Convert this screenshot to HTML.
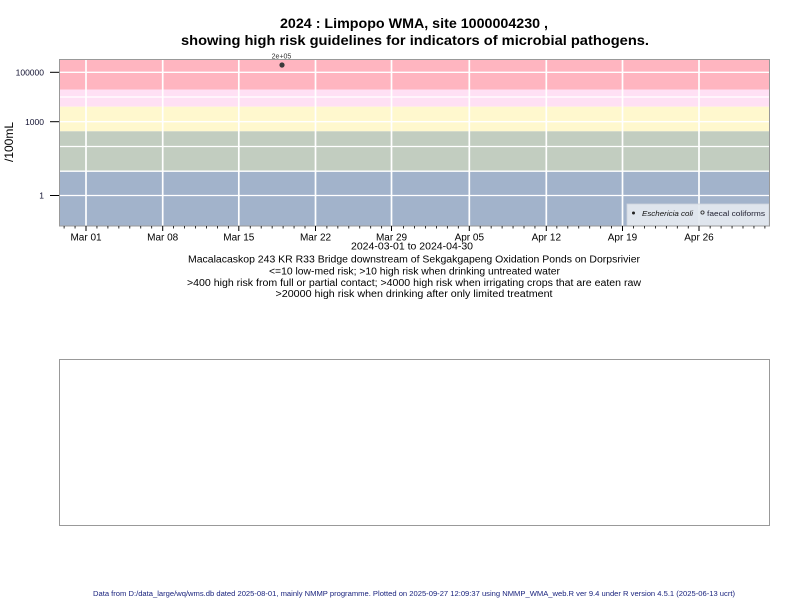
<!DOCTYPE html>
<html>
<head>
<meta charset="utf-8">
<style>
  html,body{margin:0;padding:0;background:#fff;}
  svg{display:block;}
  text{font-family:"Liberation Sans",Arial,sans-serif;}
</style>
</head>
<body>
<svg width="800" height="600" viewBox="0 0 800 600" xmlns="http://www.w3.org/2000/svg">
  <rect x="0" y="0" width="800" height="600" fill="#ffffff"/>

  <!-- Title -->
  <text x="414" y="28" font-size="14" font-weight="bold" text-anchor="middle" fill="#000" textLength="268" lengthAdjust="spacingAndGlyphs">2024 : Limpopo WMA, site 1000004230 ,</text>
  <text x="415" y="45" font-size="14" font-weight="bold" text-anchor="middle" fill="#000" textLength="468" lengthAdjust="spacingAndGlyphs">showing high risk guidelines for indicators of microbial pathogens.</text>

  <!-- Bands -->
  <rect x="59.5" y="59.5" width="710" height="30" fill="#FFB5C0"/>
  <rect x="59.5" y="89.5" width="710" height="17.2" fill="#FFE0F4"/>
  <rect x="59.5" y="106.7" width="710" height="24.6" fill="#FFF8CE"/>
  <rect x="59.5" y="131.3" width="710" height="39.6" fill="#C2CDC0"/>
  <rect x="59.5" y="170.9" width="710" height="55.6" fill="#A2B3CB"/>

  <!-- Horizontal gridlines -->
  <g stroke="#ffffff" stroke-width="1.3">
    <line x1="59.5" x2="769.5" y1="72.3" y2="72.3"/>
    <line x1="59.5" x2="769.5" y1="97" y2="97"/>
    <line x1="59.5" x2="769.5" y1="121.7" y2="121.7"/>
    <line x1="59.5" x2="769.5" y1="146.5" y2="146.5"/>
    <line x1="59.5" x2="769.5" y1="171.2" y2="171.2"/>
    <line x1="59.5" x2="769.5" y1="195.5" y2="195.5"/>
  </g>
  <!-- Vertical gridlines -->
  <g stroke="#ffffff" stroke-width="1.7">
    <line x1="86" x2="86" y1="59.5" y2="226.5"/>
    <line x1="162.7" x2="162.7" y1="59.5" y2="226.5"/>
    <line x1="238.8" x2="238.8" y1="59.5" y2="226.5"/>
    <line x1="315.5" x2="315.5" y1="59.5" y2="226.5"/>
    <line x1="391.5" x2="391.5" y1="59.5" y2="226.5"/>
    <line x1="469.3" x2="469.3" y1="59.5" y2="226.5"/>
    <line x1="546.3" x2="546.3" y1="59.5" y2="226.5"/>
    <line x1="622.5" x2="622.5" y1="59.5" y2="226.5"/>
    <line x1="699" x2="699" y1="59.5" y2="226.5"/>
  </g>

  <!-- Legend -->
  <rect x="627" y="204" width="142" height="22" fill="#E3E8EF" fill-opacity="0.93" stroke="#cfd4db" stroke-width="0.8"/>
  <circle cx="633.5" cy="213" r="1.5" fill="#222"/>
  <text x="642" y="216" font-size="7.5" font-style="italic" fill="#111" textLength="51" lengthAdjust="spacingAndGlyphs">Eschericia coli</text>
  <circle cx="702.5" cy="212.5" r="1.6" fill="none" stroke="#222" stroke-width="0.8"/>
  <text x="707" y="216" font-size="7.5" fill="#223" textLength="58" lengthAdjust="spacingAndGlyphs">faecal coliforms</text>

  <!-- Plot border -->
  <rect x="59.5" y="59.5" width="710" height="166.5" fill="none" stroke="#999" stroke-width="1"/>

  <!-- Data point -->
  <circle cx="282" cy="65" r="2.6" fill="#3a3a3a"/>
  <text x="281.5" y="58.5" font-size="7" text-anchor="middle" fill="#333">2e+05</text>

  <!-- Y axis ticks and labels -->
  <g stroke="#000" stroke-width="1">
    <line x1="50" x2="59" y1="72.3" y2="72.3"/>
    <line x1="50" x2="59" y1="121.7" y2="121.7"/>
    <line x1="50" x2="59" y1="195.5" y2="195.5"/>
  </g>
  <g font-size="8.5" text-anchor="end" fill="#101030">
    <text x="44" y="75.5">100000</text>
    <text x="44" y="125">1000</text>
    <text x="44" y="198.5">1</text>
  </g>
  <text transform="translate(13,142) rotate(-90)" font-size="12" text-anchor="middle" fill="#000">/100mL</text>

  <!-- X axis ticks -->
  <path stroke="#000" stroke-width="1" fill="none" d="M86 226V231 M162.7 226V231 M238.8 226V231 M315.5 226V231 M391.5 226V231 M469.3 226V231 M546.3 226V231 M622.5 226V231 M699 226V231"/>
  <path stroke="#000" stroke-width="0.8" fill="none" d="M64.1 226V228.5 M75.05 226V228.5 M96.95 226V228.5 M107.9 226V228.5 M118.85 226V228.5 M129.8 226V228.5 M140.75 226V228.5 M151.7 226V228.5 M173.6 226V228.5 M184.55 226V228.5 M195.5 226V228.5 M206.45 226V228.5 M217.4 226V228.5 M228.35 226V228.5 M250.25 226V228.5 M261.2 226V228.5 M272.15 226V228.5 M283.1 226V228.5 M294.05 226V228.5 M305 226V228.5 M326.9 226V228.5 M337.85 226V228.5 M348.8 226V228.5 M359.75 226V228.5 M370.7 226V228.5 M381.65 226V228.5 M403.55 226V228.5 M414.5 226V228.5 M425.45 226V228.5 M436.4 226V228.5 M447.35 226V228.5 M458.3 226V228.5 M480.2 226V228.5 M491.15 226V228.5 M502.1 226V228.5 M513.05 226V228.5 M524 226V228.5 M534.95 226V228.5 M556.85 226V228.5 M567.8 226V228.5 M578.75 226V228.5 M589.7 226V228.5 M600.65 226V228.5 M611.6 226V228.5 M633.5 226V228.5 M644.45 226V228.5 M655.4 226V228.5 M666.35 226V228.5 M677.3 226V228.5 M688.25 226V228.5 M710.15 226V228.5 M721.1 226V228.5 M732.05 226V228.5 M743 226V228.5 M753.95 226V228.5 M764.9 226V228.5"/>

  <!-- X tick labels -->
  <g font-size="10" text-anchor="middle" fill="#000">
    <text x="86" y="240.5">Mar 01</text>
    <text x="162.7" y="240.5">Mar 08</text>
    <text x="238.8" y="240.5">Mar 15</text>
    <text x="315.5" y="240.5">Mar 22</text>
    <text x="391.5" y="240.5">Mar 29</text>
    <text x="469.3" y="240.5">Apr 05</text>
    <text x="546.3" y="240.5">Apr 12</text>
    <text x="622.5" y="240.5">Apr 19</text>
    <text x="699" y="240.5">Apr 26</text>
  </g>

  <!-- Subtitle lines -->
  <g font-size="10" text-anchor="middle" fill="#000">
    <text x="412" y="249.5" textLength="122" lengthAdjust="spacingAndGlyphs">2024-03-01 to 2024-04-30</text>
    <text x="414" y="262.5" textLength="452" lengthAdjust="spacingAndGlyphs">Macalacaskop 243 KR R33 Bridge downstream of Sekgakgapeng Oxidation Ponds on Dorpsrivier</text>
    <text x="414.5" y="274.5" textLength="291" lengthAdjust="spacingAndGlyphs">&lt;=10 low-med risk; &gt;10 high risk when drinking untreated water</text>
    <text x="414" y="286" textLength="454" lengthAdjust="spacingAndGlyphs">&gt;400 high risk from full or partial contact; &gt;4000 high risk when irrigating crops that are eaten raw</text>
    <text x="414" y="297" textLength="277" lengthAdjust="spacingAndGlyphs">&gt;20000 high risk when drinking after only limited treatment</text>
  </g>

  <!-- Second (empty) panel -->
  <rect x="59.5" y="359.5" width="710" height="166" fill="none" stroke="#999" stroke-width="1"/>

  <!-- Footer -->
  <text x="414" y="596" font-size="7" text-anchor="middle" fill="#1a237e" textLength="642" lengthAdjust="spacingAndGlyphs">Data from D:/data_large/wq/wms.db dated 2025-08-01, mainly NMMP programme. Plotted on 2025-09-27 12:09:37 using NMMP_WMA_web.R ver 9.4 under R version 4.5.1 (2025-06-13 ucrt)</text>
</svg>
</body>
</html>
